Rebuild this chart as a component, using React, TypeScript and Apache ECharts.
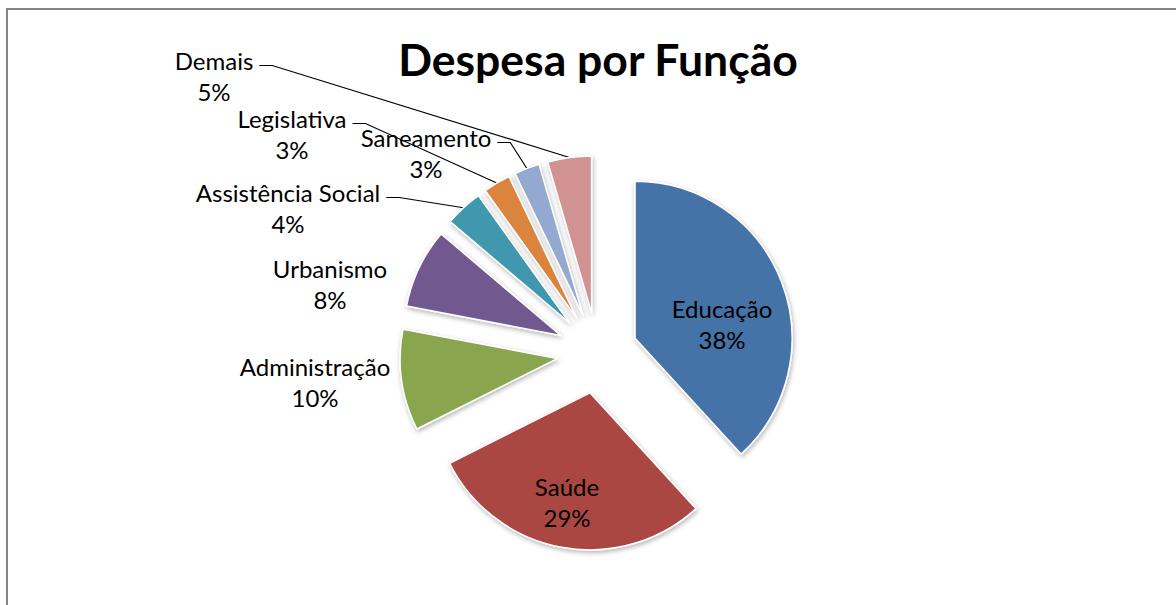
import React, { useEffect, useRef } from "react";
import * as echarts from "echarts";

const categories = [
  "Educação",
  "Saúde",
  "Administração",
  "Urbanismo",
  "Assistência Social",
  "Legislativa",
  "Saneamento",
  "Demais",
];
// shares (labels show them rounded)
const values = [38.2, 29.4, 10.4, 8.2, 3.9, 2.8, 2.6, 4.5];
const colors = [
  "#4572A7",
  "#AA4643",
  "#89A54E",
  "#71588F",
  "#4198AF",
  "#DB843D",
  "#93A9CF",
  "#D19392",
];
const titleText = "Despesa por Função";

// layout: centre of each label block, and whether a leader line is drawn
const labelPos: [number, number][] = [
  [722, 324],
  [567, 502],
  [315, 382],
  [330, 284],
  [288, 208],
  [292, 134],
  [426, 153],
  [214, 76],
];
const showLine = [false, false, false, false, true, true, true, true];

const FONT = "Lato, 'Open Sans', sans-serif";
const CX = 597.3;
const CY = 353;
const R = 157;
const EXPLODE = 40.5;
const LINE_H = 31;

export default function App() {
  const ref = useRef<HTMLDivElement>(null);
  useEffect(() => {
    if (!ref.current) return;
    const chart = echarts.init(ref.current, undefined, { renderer: "svg" });
    const total = values.reduce((a, b) => a + b, 0);
    let cum = 0;
    const mids = values.map((v) => {
      const m = ((cum + v / 2) / total) * Math.PI * 2;
      cum += v;
      return m;
    });

    const series = categories.map((_, i) => ({
      type: "pie",
      center: [CX + EXPLODE * Math.sin(mids[i]), CY - EXPLODE * Math.cos(mids[i])],
      radius: [0, R],
      startAngle: 90,
      clockwise: true,
      percentPrecision: 0,
      silent: true,
      emphasis: { disabled: true },
      label: {
        show: false,
        position: "outside",
        formatter: "{b}\n{d}%",
        fontFamily: FONT,
        fontSize: 24,
        lineHeight: LINE_H,
        color: "#000",
        align: "center",
      },
      labelLine: {
        show: false,
        length: 12,
        length2: 12,
        lineStyle: { color: "#000", width: 1.2 },
      },
      labelLayout: (params: any) => {
        const p = labelPos[params.dataIndex];
        const out: any = { x: p[0], y: p[1], align: "center", verticalAlign: "middle" };
        const pts = params.labelLinePoints;
        if (showLine[params.dataIndex] && pts && pts.length) {
          const w = params.labelRect ? params.labelRect.width : 0;
          const right = p[0] + w / 2;
          const ly = p[1] - LINE_H / 2 + 5;
          out.labelLinePoints = [pts[0], [right + 19, ly], [right + 6, ly]];
        }
        return out;
      },
      data: categories.map((name, j) =>
        j === i
          ? {
              name,
              value: values[j],
              itemStyle: {
                color: colors[j],
                borderColor: "#fff",
                borderWidth: 1.5,
                shadowBlur: 5,
                shadowOffsetX: 1,
                shadowOffsetY: 2,
                shadowColor: "rgba(0,0,0,0.3)",
              },
              label: { show: true },
              labelLine: { show: showLine[j] },
            }
          : {
              name,
              value: values[j],
              itemStyle: { color: "rgba(0,0,0,0)", borderWidth: 0 },
              label: { show: false },
              labelLine: { show: false },
            }
      ),
    }));

    chart.setOption({
      animation: false,
      backgroundColor: "#ffffff",
      graphic: [
        {
          type: "rect",
          shape: { x: 7, y: 9, width: 1300, height: 800 },
          style: { fill: "none", stroke: "#868686", lineWidth: 2 },
          silent: true,
          z: -10,
        },
        {
          type: "text",
          x: 598,
          y: 58,
          style: {
            text: titleText,
            font: `bold 44.5px ${FONT}`,
            fill: "#000",
            textAlign: "center",
            textVerticalAlign: "middle",
          },
        },
      ],
      series,
    });
    return () => chart.dispose();
  }, []);
  return (
    <div
      ref={ref}
      style={{ position: "fixed", left: 0, top: 0, width: 1176, height: 605 }}
    />
  );
}
